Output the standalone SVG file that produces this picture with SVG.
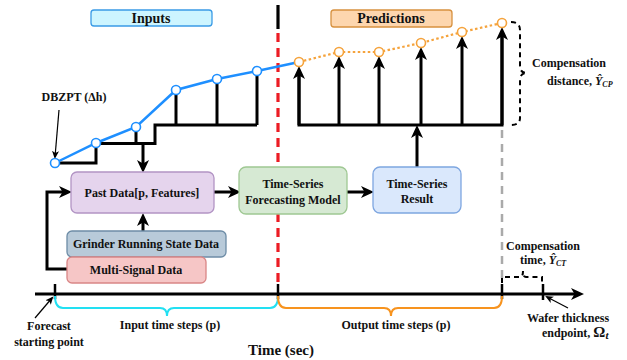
<svg xmlns="http://www.w3.org/2000/svg" width="627" height="360" viewBox="0 0 627 360">
  <style>
    text { font-family: "Liberation Serif", "Times New Roman", serif; font-weight: bold; fill: #111; }
    .t12 { font-size: 12px; }
    .t14 { font-size: 14px; }
    .mid { text-anchor: middle; }
    .sub { font-size: 8px; font-style: italic; }
    .blk { fill: none; stroke: #000; stroke-width: 3; stroke-linejoin: miter; }
    .arr { fill: none; stroke: #000; stroke-width: 3; marker-end: url(#head); }
    .thin { fill: none; stroke: #000; stroke-width: 1.2; marker-end: url(#headSmall); }
    .box { stroke-width: 1.3; }
    .ptIn { fill: #fff; stroke: #1e8fff; stroke-width: 1.6; }
    .ptOut { fill: #fff; stroke: #f5a33c; stroke-width: 1.6; }
    .tick { stroke: #000; stroke-width: 2.5; }
  </style>
  <defs>
    <marker id="head" markerUnits="userSpaceOnUse" markerWidth="13" markerHeight="12" refX="6" refY="6" orient="auto" viewBox="0 0 13 12">
      <path d="M0,0 L13,6 L0,12 L3.5,6 Z" fill="#000"/>
    </marker>
    <marker id="headSmall" markerUnits="userSpaceOnUse" markerWidth="8" markerHeight="7" refX="6" refY="3.5" orient="auto" viewBox="0 0 8 7">
      <path d="M0,0 L8,3.5 L0,7 L2,3.5 Z" fill="#000"/>
    </marker>
  </defs>

  <rect width="627" height="360" fill="#fff"/>

  <!-- section titles -->
  <g id="inputs-title">
    <rect x="91" y="10" width="121" height="16" rx="3" fill="#cdf5ff" stroke="#3a9be6" class="box"/>
    <text x="151" y="23" class="t14 mid">Inputs</text>
  </g>
  <g id="predictions-title">
    <rect x="331" y="10" width="121" height="17" rx="3" fill="#fdd6ae" stroke="#d7913f" class="box"/>
    <text x="391" y="23" class="t14 mid">Predictions</text>
  </g>

  <!-- time boundaries -->
  <g id="boundaries">
    <line x1="278" y1="5" x2="278" y2="29" stroke="#000" stroke-width="3.2"/>
    <line x1="278" y1="33" x2="278" y2="288" stroke="#ec1c24" stroke-width="3.2" stroke-dasharray="9,6"/>
    <line x1="502" y1="130" x2="502" y2="284" stroke="#aaa" stroke-width="2.5" stroke-dasharray="8,6"/>
  </g>

  <g id="connectors">
    <!-- input staircase -->
    <path class="blk" d="M58,163 H96 V147"/>
    <path class="blk" d="M96,143.5 H155 V125 H257"/>
    <line class="blk" x1="136" y1="131" x2="136" y2="143.5"/>
    <line class="blk" x1="176" y1="125" x2="176" y2="94"/>
    <line class="blk" x1="217" y1="125" x2="217" y2="83"/>
    <line class="blk" x1="257" y1="125" x2="257" y2="75"/>
    <line class="arr" x1="143" y1="143.5" x2="143" y2="166"/>

    <!-- prediction comb -->
    <path class="blk" d="M299,73 V125 H502 V34"/>
    <path class="arr" d="M299,125 V73"/>
    <path class="arr" d="M339,125 V63"/>
    <path class="arr" d="M379,125 V63"/>
    <path class="arr" d="M421,125 V54"/>
    <path class="arr" d="M462,125 V43"/>
    <path class="arr" d="M502,125 V34"/>
    <path class="arr" d="M417,167 V132"/>

    <!-- data flow -->
    <path class="arr" d="M67,269 H47 V192 H65"/>
    <path class="arr" d="M143,231 V220"/>
    <path class="arr" d="M214,192 H234"/>
    <path class="arr" d="M347,192 H367"/>

    <!-- series lines -->
    <polyline points="55,163 96,143 136,127 176,90 217,79 257,71 299,62" fill="none" stroke="#1e8fff" stroke-width="2.5"/>
    <polyline points="299,62 339,52 379,52 421,43 462,32 502,23" fill="none" stroke="#f5a33c" stroke-width="2.2" stroke-dasharray="2.5,2.5"/>

    <!-- compensation distance brace -->
    <path d="M511,22 Q520,22 520,30 V66 Q520,73 527,73 Q520,73 520,80 V118 Q520,125 511,125" fill="none" stroke="#000" stroke-width="2" stroke-dasharray="5,4"/>
    <!-- compensation time brace -->
    <path d="M502,283 V277 H520 Q523,277 523,271 Q523,277 526,277 H542 V283" fill="none" stroke="#000" stroke-width="2" stroke-dasharray="5,4"/>

    <!-- time axis -->
    <path class="arr" d="M35,294 H577"/>
    <line class="tick" x1="55" y1="284" x2="55" y2="299"/>
    <line class="tick" x1="278" y1="284" x2="278" y2="299"/>
    <line class="tick" x1="502" y1="284" x2="502" y2="299"/>
    <line class="tick" x1="543" y1="284" x2="543" y2="300"/>

    <!-- step braces -->
    <path d="M55,296 Q55,308 63,308 H160 Q167,308 167,316 Q167,308 174,308 H270 Q278,308 278,296" fill="none" stroke="#22e0f2" stroke-width="2"/>
    <path d="M278,296 Q278,308 286,308 H384 Q391,308 391,316 Q391,308 398,308 H494 Q502,308 502,296" fill="none" stroke="#f7931e" stroke-width="2"/>

    <!-- pointer arrows -->
    <line class="thin" x1="59" y1="110" x2="55" y2="157"/>
    <line class="thin" x1="35" y1="318" x2="52" y2="298"/>
    <line class="thin" x1="568" y1="308" x2="547" y2="297"/>
  </g>

  <!-- sample points -->
  <g id="input-points">
    <circle class="ptIn" cx="55" cy="163" r="4.5"/>
    <circle class="ptIn" cx="96" cy="143" r="4.5"/>
    <circle class="ptIn" cx="136" cy="127" r="4.5"/>
    <circle class="ptIn" cx="176" cy="90" r="4.5"/>
    <circle class="ptIn" cx="217" cy="79" r="4.5"/>
    <circle class="ptIn" cx="257" cy="71" r="4.5"/>
  </g>
  <g id="prediction-points">
    <circle class="ptOut" cx="299" cy="62" r="4.5"/>
    <circle class="ptOut" cx="339" cy="52" r="4.5"/>
    <circle class="ptOut" cx="379" cy="52" r="4.5"/>
    <circle class="ptOut" cx="421" cy="43" r="4.5"/>
    <circle class="ptOut" cx="462" cy="32" r="4.5"/>
    <circle class="ptOut" cx="502" cy="23" r="4.5"/>
  </g>

  <!-- process boxes -->
  <g id="past-data">
    <rect x="71" y="172" width="143" height="41" rx="6" fill="#e5d4ed" stroke="#b294c4" class="box"/>
    <text x="142" y="197" class="t12 mid">Past Data[p, Features]</text>
  </g>
  <g id="grinder-state">
    <rect x="67" y="231" width="159" height="26" rx="5" fill="#b8cad9" stroke="#6d8ca6" class="box"/>
    <text x="146" y="248" class="t12 mid">Grinder Running State Data</text>
  </g>
  <g id="multi-signal">
    <rect x="67" y="257" width="139" height="26" rx="5" fill="#f6c6c6" stroke="#d98686" class="box"/>
    <text x="136" y="274" class="t12 mid">Multi-Signal Data</text>
  </g>
  <g id="forecast-model">
    <rect x="239" y="167" width="108" height="47" rx="7" fill="#d6e9d3" stroke="#9fc893" class="box"/>
    <text x="293" y="188" class="t12 mid">Time-Series</text>
    <text x="293" y="204" class="t12 mid">Forecasting Model</text>
  </g>
  <g id="series-result">
    <rect x="373" y="167" width="88" height="46" rx="7" fill="#dae8fc" stroke="#7ea6e0" class="box"/>
    <text x="417" y="188" class="t12 mid">Time-Series</text>
    <text x="417" y="203" class="t12 mid">Result</text>
  </g>

  <!-- annotations -->
  <g id="labels">
    <text x="74" y="101" class="t12 mid">DBZPT (Δh)</text>
    <text x="532" y="67" class="t12">Compensation</text>
    <text x="547" y="85" class="t12">distance, <tspan font-style="italic">Ŷ</tspan><tspan class="sub" dy="2">CP</tspan></text>
    <text x="506" y="250" class="t12">Compensation</text>
    <text x="520" y="264" class="t12">time, <tspan font-style="italic">Ŷ</tspan><tspan class="sub" dy="2">CT</tspan></text>
    <text x="170" y="329" class="t12 mid">Input time steps (p)</text>
    <text x="396" y="329" class="t12 mid">Output time steps (p)</text>
    <text x="49" y="330" class="t12 mid">Forecast</text>
    <text x="49" y="346" class="t12 mid">starting point</text>
    <text x="281" y="355" class="mid" font-size="15">Time (sec)</text>
    <text x="568" y="322" class="t12 mid">Wafer thickness</text>
    <text x="542" y="337" class="t12">endpoint,  <tspan font-size="15">Ω</tspan><tspan font-style="italic" font-size="11" dy="2">t</tspan></text>
  </g>
</svg>
